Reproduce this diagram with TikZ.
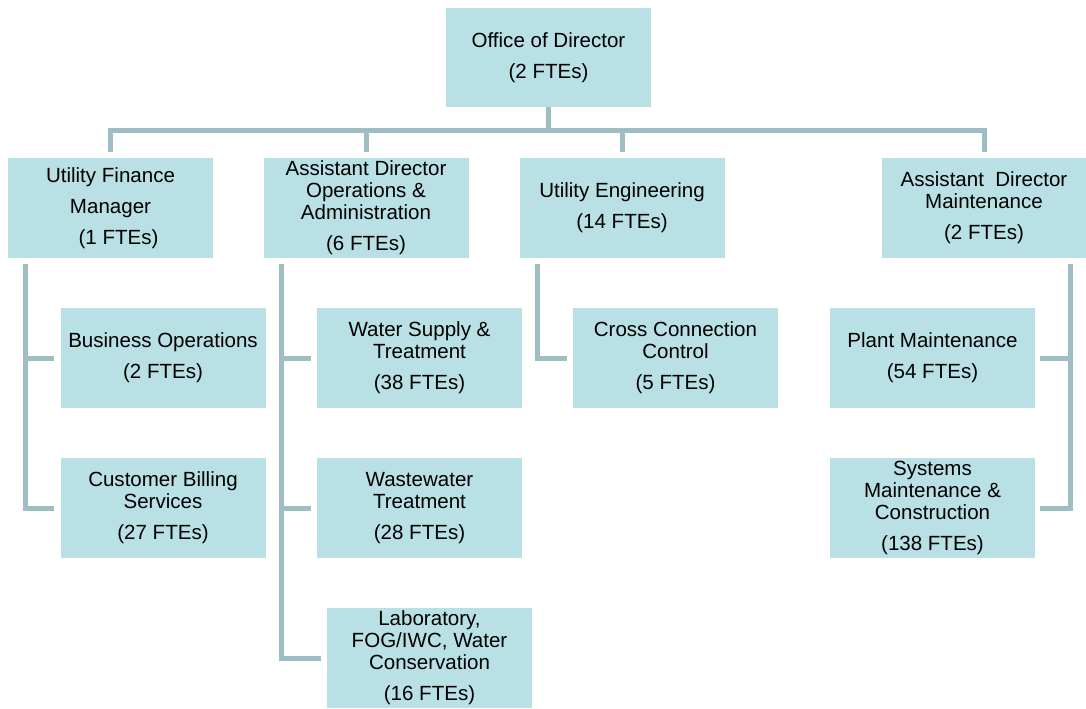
\documentclass[tikz,border=0pt]{standalone}
\usepackage{fontspec}
\setmainfont{Liberation Sans}
\usepackage{tikz}
\usetikzlibrary{positioning}
\definecolor{boxteal}{RGB}{185,224,228}
\definecolor{lineteal}{RGB}{158,190,195}

\begin{document}
\begin{tikzpicture}[x=0.75pt, y=-0.75pt,
    unit/.style={fill=boxteal, minimum width=153.75pt, minimum height=75pt, inner sep=0pt, align=center,
      font=\fontsize{15.4pt}{16.5pt}\selectfont},
    conn/.style={draw=lineteal, line width=3.75pt}]
  \useasboundingbox (0,0) rectangle (1086,708);

  % Director at the top
  \node[unit, minimum height=74.25pt] (dir) at (548.5,57.5) {Office of Director\\[6.75pt](2 FTEs)};

  % Second row
  \node[unit] (ufm) at (110.5,208) {Utility Finance\\[6.75pt]Manager\\[6.75pt]\hspace*{12pt}(1 FTEs)};
  \node[unit] (ado) at (366,208) {Assistant Director\\Operations \&\\Administration\\[6.75pt](6 FTEs)};
  \node[unit] (ue) at (622,208) {Utility Engineering\\[6.75pt](14 FTEs)};
  \node[unit] (adm) at (984,208) {Assistant\ \ Director\\Maintenance\\[6.75pt](2 FTEs)};

  % Third row
  \node[unit] (bos) at (163,358) {Business Operations\\[6.75pt](2 FTEs)};
  \node[unit] (cbs) at (163,508) {Customer Billing\\Services\\[6.75pt](27 FTEs)};
  \node[unit] (wst) at (419.5,358) {Water Supply \&\\Treatment\\[6.75pt](38 FTEs)};
  \node[unit] (wwt) at (419.5,508) {Wastewater\\Treatment\\[6.75pt](28 FTEs)};
  \node[unit] (lab) at (429.5,658) {Laboratory,\\FOG/IWC, Water\\Conservation\\[6.75pt](16 FTEs)};
  \node[unit] (ccc) at (675.5,358) {Cross Connection\\Control\\[6.75pt](5 FTEs)};
  \node[unit] (pm) at (932.5,358) {Plant Maintenance\\[6.75pt](54 FTEs)};
  \node[unit] (smc) at (932.5,508) {Systems\\Maintenance \&\\Construction\\[6.75pt](138 FTEs)};

  % Bus below the director
  \coordinate (bus) at (0,130);
  \draw[conn] ([yshift=4.5pt]ufm.north) -- (ufm.north |- bus) -| ([yshift=4.5pt]adm.north);
  \draw[conn] (dir.south) -- (dir.south |- bus);
  \foreach \u in {ado,ue}
    \draw[conn] (\u.north |- bus) -- ([yshift=4.5pt]\u.north);

  % Drops to the third row
  \coordinate (ufmv) at ([xshift=13.5pt,yshift=-4pt]ufm.south west);
  \coordinate (adov) at ([xshift=13.5pt,yshift=-4pt]ado.south west);
  \coordinate (uev) at ([xshift=13.5pt,yshift=-4pt]ue.south west);
  \coordinate (admv) at ([xshift=-12pt,yshift=-4pt]adm.south east);
  \foreach \c in {bos,cbs}
    \draw[conn] (ufmv) |- ([xshift=-4.5pt]\c.west);
  \foreach \c in {wst,wwt,lab}
    \draw[conn] (adov) |- ([xshift=-4.5pt]\c.west);
  \draw[conn] (uev) |- ([xshift=-4.5pt]ccc.west);
  \foreach \c in {pm,smc}
    \draw[conn] (admv) |- ([xshift=3.75pt]\c.east);
\end{tikzpicture}
\end{document}
